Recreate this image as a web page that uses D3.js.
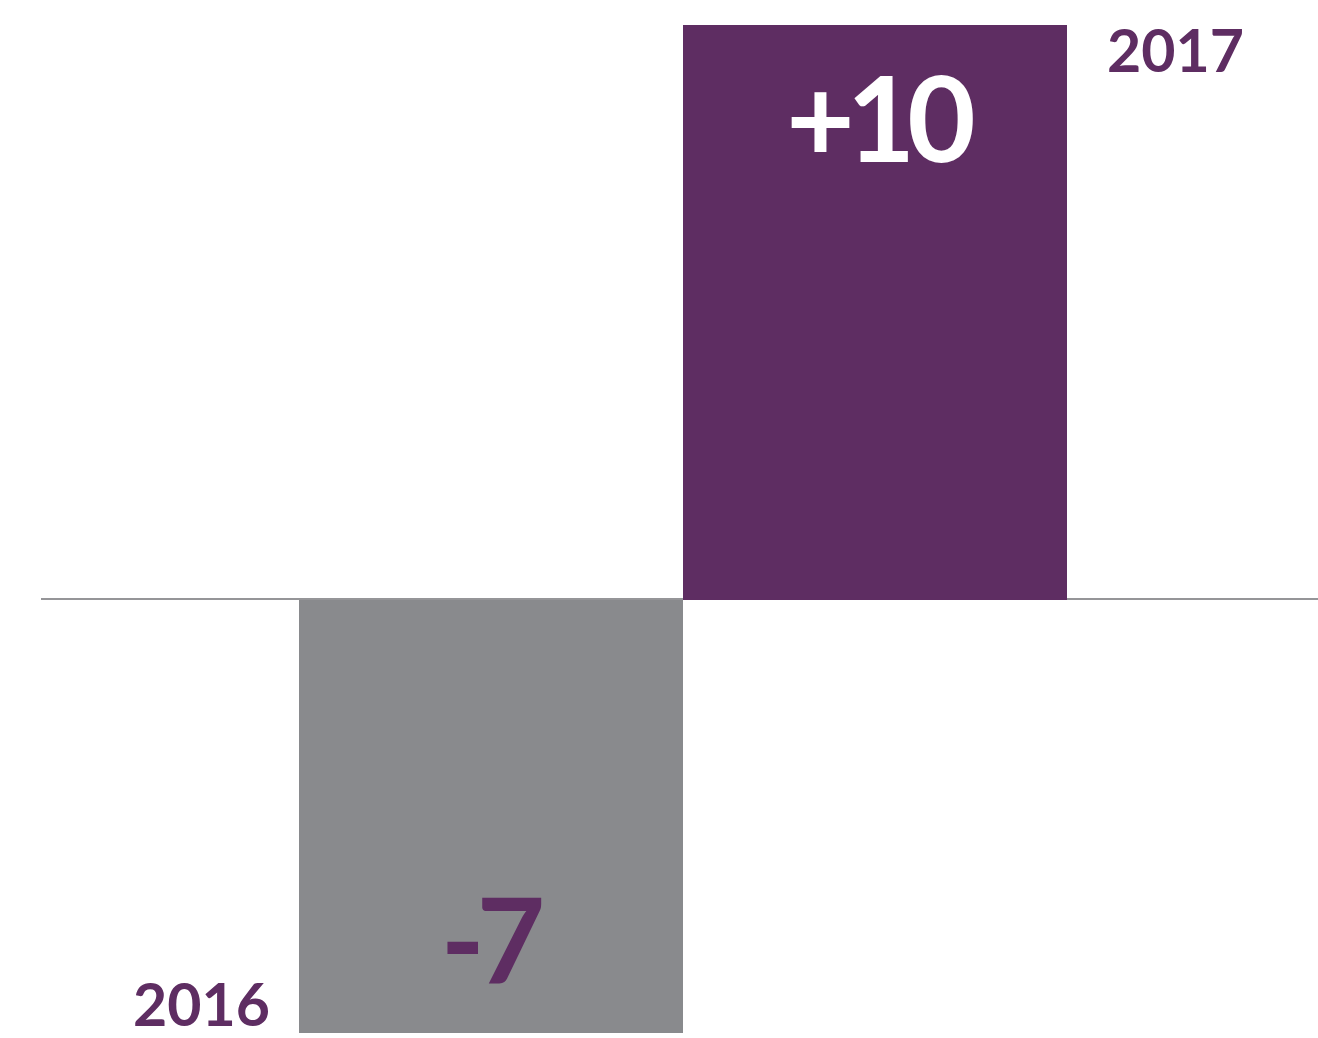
<!DOCTYPE html>
<html>
<head>
<meta charset="utf-8">
<script src="https://cdn.jsdelivr.net/npm/d3@7"></script>
<style>
  body { margin: 0; background: #fff; }
  text { font-family: Lato, "Open Sans", sans-serif; font-weight: bold; }
</style>
</head>
<body>
<div id="chart"></div>
<script>
// data
const years = ["2016", "2017"];
const values = [-7, 10];
const valueLabels = ["-7", "+10"];

const width = 1318;
const height = 1038;

const svg = d3.select("#chart").append("svg")
    .attr("width", width)
    .attr("height", height);

// bars are not drawn to one scale in the original, so piecewise
const y = d3.scaleLinear()
    .domain([-7, 0, 10])
    .range([1033, 600, 25]);

const x = d3.scaleBand()
    .domain(years)
    .range([299, 1067])
    .padding(0);

// zero line
svg.append("line")
    .attr("x1", 41).attr("x2", width)
    .attr("y1", y(0) - 1).attr("y2", y(0) - 1)
    .attr("stroke", "#959598")
    .attr("stroke-width", 2.2);

svg.selectAll("rect.bar")
    .data(values)
    .enter()
    .append("rect")
    .attr("class", "bar")
    .attr("x", (d, i) => x(years[i]))
    .attr("width", x.bandwidth())
    .attr("y", d => Math.min(y(d), y(0)))
    .attr("height", d => Math.abs(y(d) - y(0)))
    .attr("fill", d => d < 0 ? "#898a8d" : "#5e2d62");

// value labels inside the bars
svg.selectAll("text.val")
    .data(values)
    .enter()
    .append("text")
    .attr("class", "val")
    .attr("x", (d, i) => x(years[i]) + x.bandwidth() / 2 + (d < 0 ? -2 : 2))
    .attr("y", d => d < 0 ? y(d) - 49 : y(d) + 137)
    .attr("text-anchor", "middle")
    .attr("font-size", 118)
    .attr("letter-spacing", -8)
    .attr("fill", d => d < 0 ? "#5e2d62" : "#fff")
    .text((d, i) => valueLabels[i]);

// year labels beside the bar ends
svg.selectAll("text.year")
    .data(values)
    .enter()
    .append("text")
    .attr("class", "year")
    .attr("x", (d, i) => d < 0 ? x(years[i]) - 29 : x(years[i]) + x.bandwidth() + 40)
    .attr("y", d => d < 0 ? y(d) - 7 : y(d) + 47)
    .attr("text-anchor", d => d < 0 ? "end" : "start")
    .attr("font-size", 59)
    .attr("fill", "#5e2d62")
    .text((d, i) => years[i]);
</script>
</body>
</html>
